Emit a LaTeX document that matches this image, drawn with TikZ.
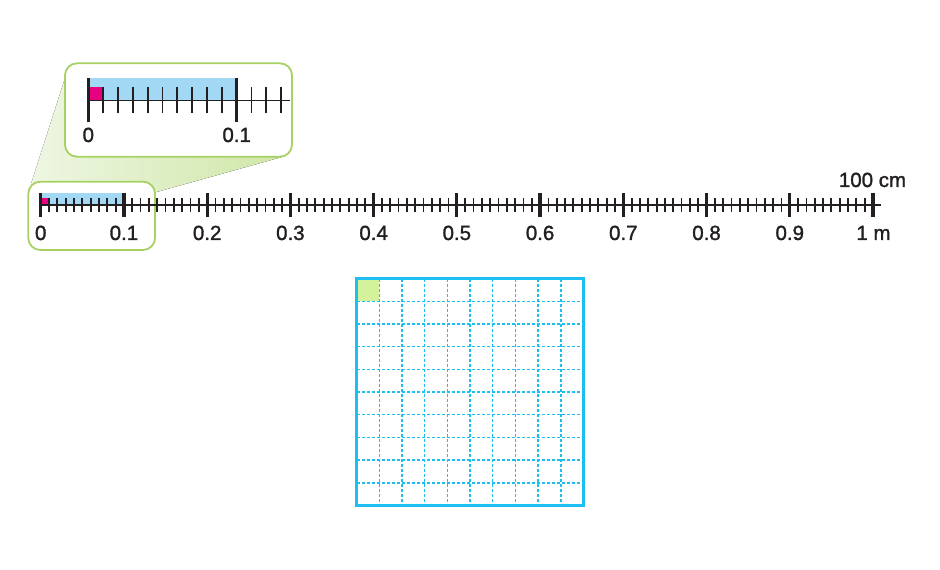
\documentclass[tikz,border=0pt]{standalone}
\usepackage{fontspec}
\setmainfont{Liberation Sans}
\newfontfamily\lblfont[FakeBold=1.5]{Liberation Sans}
\definecolor{rulerink}{HTML}{231F20}
\definecolor{barblue}{HTML}{A3D8F4}
\definecolor{pinkfill}{HTML}{E4007F}
\definecolor{boxgreen}{HTML}{A8D163}
\definecolor{conegreenA}{HTML}{D0E7A8}
\definecolor{conegreenB}{HTML}{EEF6E2}
\definecolor{gridcyan}{HTML}{1CBFEF}
\definecolor{cellgreen}{HTML}{D4F19C}
\begin{document}
\begin{tikzpicture}[x=1bp,y=-1bp,
  lbl/.style={font=\lblfont\fontsize{20.5bp}{24bp}\selectfont, text=rulerink, inner sep=0pt, anchor=base},
  majortick/.style={draw=rulerink, line width=3.2bp},
  minortick/.style={draw=rulerink, line width=1.8bp},
  axisline/.style={draw=rulerink, line width=1.8bp},
  zoombox/.style={draw=boxgreen, line width=1.8bp, rounded corners=12bp, fill=white},
  gridline/.style={draw=gridcyan, line width=1.4bp, dash pattern=on 3bp off 2bp},
  gridborder/.style={draw=gridcyan, line width=3bp}]
\useasboundingbox (0,0) rectangle (940,570);

% magnifier cone
\fill[left color=conegreenB, right color=conegreenA] (31,184) -- (67,72) -- (282,157) -- (153,193) -- cycle;

% boxes
\draw[zoombox] (65,63.3) rectangle (292,156.7);
\draw[zoombox] (28.3,181.7) rectangle (155,250);

% ---- main ruler ----
\fill[barblue] (40.7,193) rectangle (124,205);
\fill[pinkfill] (40.7,198) rectangle (49,205);
\draw[axisline] (40.7,205) -- (881,205);
\foreach \i in {0,...,100}{
  \pgfmathsetmacro\xx{40.7+8.323*\i}
  \pgfmathtruncatemacro\r{mod(\i,10)}
  \ifnum\r=0
    \draw[majortick] (\xx,193) -- (\xx,217);
  \else
    \draw[minortick] (\xx,198) -- (\xx,212);
  \fi
}
\node[lbl] (ml0) at (40.7,240) {0};
\foreach \k in {1,...,9}{
  \node[lbl] (ml\k) at ({40.7+83.23*\k},240) {0.\k};
}
\node[lbl] (ml10) at (873.5,240) {1 m};
\node[lbl] (cm100) at (872.5,187) {100 cm};

% ---- magnified ruler ----
\fill[barblue] (88.3,77.7) rectangle (236.7,100.5);
\fill[pinkfill] (88.3,87) rectangle (103.1,100.5);
\draw[axisline] (88.3,100.5) -- (290,100.5);
\foreach \i in {0,...,13}{
  \pgfmathsetmacro\xx{88.3+14.84*\i}
  \pgfmathtruncatemacro\r{mod(\i,10)}
  \ifnum\r=0
    \draw[majortick] (\xx,78) -- (\xx,122);
  \else
    \draw[minortick] (\xx,87) -- (\xx,113.5);
  \fi
}
\node[lbl] (zl0) at (88.3,142) {0};
\node[lbl] (zl1) at (236.7,142) {0.1};

% ---- grid ----
\fill[cellgreen] (356.5,278.5) rectangle (379.2,301.2);
\foreach \k in {1,...,9}{
  \pgfmathsetmacro\px{356.5+22.7*\k}
  \pgfmathsetmacro\py{278.5+22.7*\k}
  \draw[gridline] (\px,278.5) -- (\px,505.5);
  \draw[gridline] (356.5,\py) -- (583.5,\py);
}
\draw[gridborder] (356.5,278.5) rectangle (583.5,505.5);
\end{tikzpicture}
\end{document}
